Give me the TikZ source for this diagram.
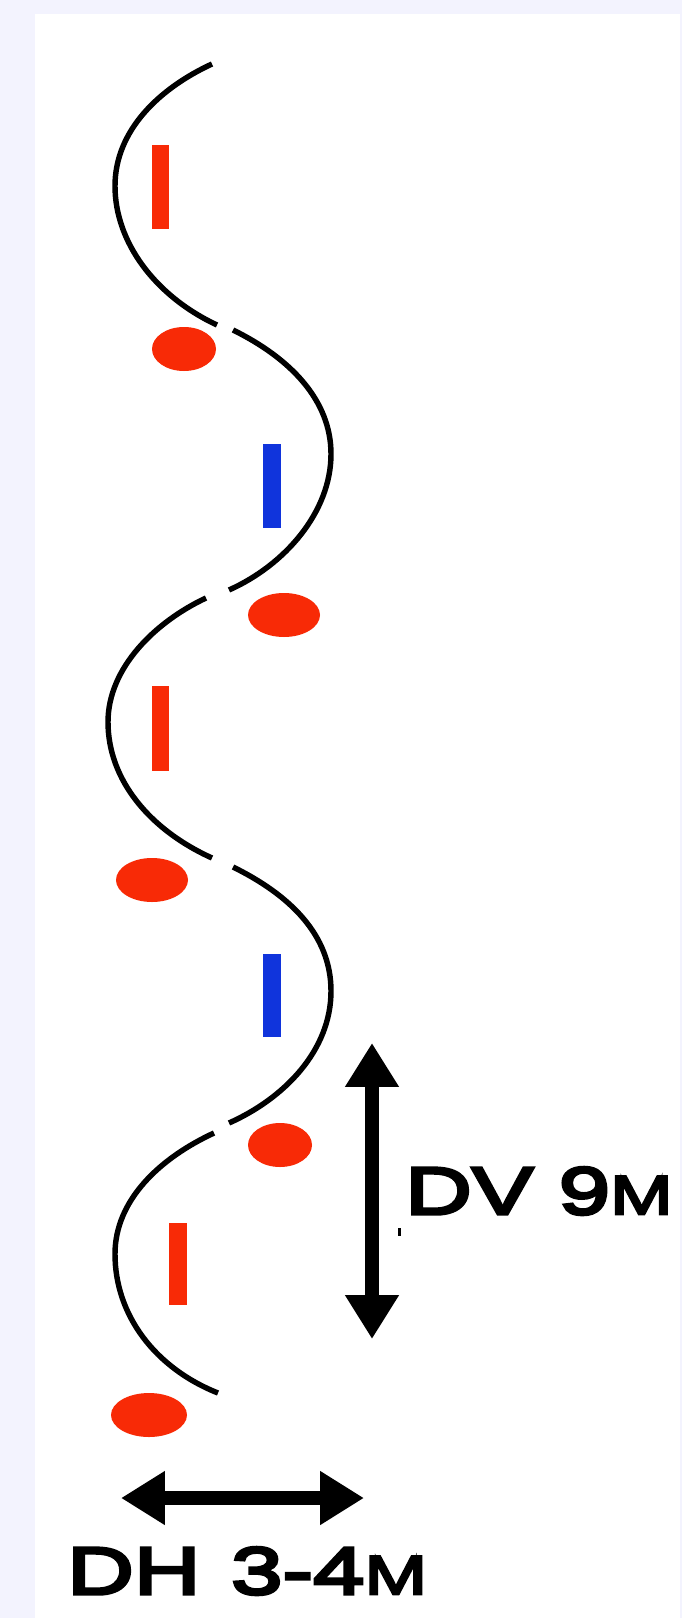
\documentclass[tikz,border=0pt]{standalone}
\usepackage{fontspec}
\newfontfamily\dimfont[FakeStretch=1.38,FakeBold=5]{Liberation Sans}
\usetikzlibrary{arrows.meta}
\definecolor{pagetint}{HTML}{F3F3FE}
\definecolor{conered}{HTML}{F82A06}
\definecolor{poleblue}{HTML}{1034DC}
\tikzset{
  route/.style={line width=3.1pt, black},
  dimarrow/.style={line width=7.6pt, black, {Triangle[length=25pt,width=29pt]}-{Triangle[length=25pt,width=29pt]}},
  dimlabel/.style={anchor=base west, inner sep=0pt, font=\dimfont\fontsize{38}{38}\selectfont}
}
\newcommand{\smallm}{{\fontsize{31}{31}\selectfont M}}
\begin{document}
\begin{tikzpicture}[x=0.02cm, y=-0.02cm]

  % --- 1. page ---
  \fill[pagetint] (0,0) rectangle (682,1618);
  \fill[white] (35,14) rectangle (680,1618);
  \useasboundingbox (0,0) rectangle (682,1618);

  % --- 2. slalom route ---
  \draw[route] (212,64) .. controls (160,88) and (115,130) .. (115,186)
    .. controls (115,242) and (155,296) .. (217,325);
  \draw[route] (233,330) .. controls (290,358) and (331,400) .. (331,454)
    .. controls (331,512) and (285,565) .. (229,590);
  \draw[route] (206,598) .. controls (155,622) and (108,668) .. (108,722)
    .. controls (108,780) and (150,830) .. (212,858);
  \draw[route] (233,867) .. controls (290,895) and (331,935) .. (331,991)
    .. controls (331,1050) and (285,1098) .. (229,1123);
  \draw[route] (214,1133) .. controls (160,1158) and (115,1200) .. (115,1254)
    .. controls (115,1315) and (155,1368) .. (218,1393);

  % --- 3. poles ---
  \fill[conered] (152,145) rectangle (169,229);
  \fill[poleblue] (263,444) rectangle (281,528);
  \fill[conered] (152,686) rectangle (169,771);
  \fill[poleblue] (263,954) rectangle (281,1037);
  \fill[conered] (169,1223) rectangle (187,1305);

  % --- 4. cones ---
  \fill[conered] (184,349) ellipse (32 and 22);
  \fill[conered] (284,615) ellipse (36 and 22);
  \fill[conered] (152,880) ellipse (36 and 22);
  \fill[conered] (280,1145) ellipse (32 and 22);
  \fill[conered] (149,1415) ellipse (38 and 22);

  % --- 5. distances ---
  \coordinate (DVtop) at (372,1043);
  \coordinate (DVbot) at (372,1339);
  \coordinate (DHleft) at (121,1498);
  \coordinate (DHright) at (364,1498);
  \draw[dimarrow] (DVtop) -- (DVbot);
  \draw[dimarrow] (DHleft) -- (DHright);
  \fill[black] (398,1228) rectangle (401,1236);

  \node[dimlabel] (DVlabel) at (405,1214) {DV 9\smallm};
  \node[dimlabel] (DHlabel) at (67,1594) {DH \hspace{3pt}3-4\smallm};

\end{tikzpicture}
\end{document}
